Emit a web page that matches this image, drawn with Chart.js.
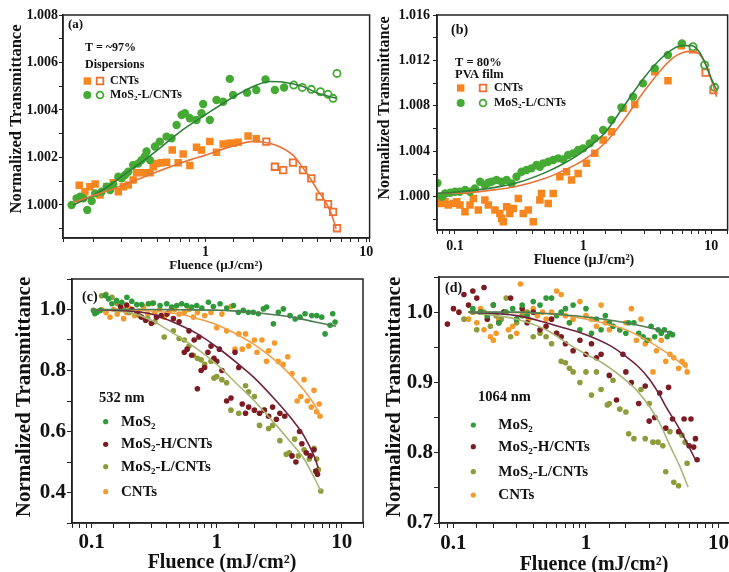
<!DOCTYPE html>
<html>
<head>
<meta charset="utf-8">
<script src="https://cdn.jsdelivr.net/npm/chart.js@4.4.1/dist/chart.umd.min.js"></script>
<style>
  html, body { margin: 0; padding: 0; background: #fff; }
  #wrap { position: relative; width: 729px; height: 572px; overflow: hidden; background: #fff; }
  #wrap canvas { position: absolute; }
</style>
</head>
<body>
<div id="wrap"></div>
<script>
// ---------- panel (a): dispersions, T ~97% ----------
const A_CNT_FILLED = [[0.164,1.00083],[0.178,1.00056],[0.191,1.00077],[0.206,1.00088],[0.221,1.00042],[0.243,1.00077],[0.267,1.00094],[0.287,1.00056],[0.308,1.00077],[0.331,1.00084],[0.355,1.00105],[0.373,1.00136],[0.410,1.00136],[0.451,1.00136],[0.473,1.00161],[0.496,1.00175],[0.533,1.00178],[0.573,1.0018],[0.621,1.00232],[0.676,1.00178],[0.726,1.00215],[0.800,1.00166],[0.879,1.00243],[0.944,1.00232],[1.064,1.00267],[1.170,1.00222],[1.288,1.00257],[1.416,1.0026],[1.485,1.0026],[1.595,1.00264],[1.84,1.00291],[2.07,1.00279]];
const A_CNT_OPEN = [[2.39,1.00267],[2.70,1.00161],[3.04,1.00147],[3.50,1.00178],[4.04,1.00147],[4.55,1.00112],[5.13,1.00035],[5.78,1.00004],[6.21,0.99971],[6.57,0.99902]];
const A_MOS_FILLED = [[0.147,1.0000],[0.158,1.00028],[0.166,1.00035],[0.174,1.00028],[0.184,0.99979],[0.196,1.00017],[0.206,1.00049],[0.226,1.00056],[0.243,1.00077],[0.255,1.00063],[0.267,1.00084],[0.287,1.00119],[0.301,1.00112],[0.316,1.00126],[0.331,1.0014],[0.355,1.00168],[0.382,1.00175],[0.400,1.00189],[0.420,1.00204],[0.430,1.00225],[0.451,1.00189],[0.485,1.00246],[0.520,1.00267],[0.573,1.00288],[0.615,1.00281],[0.661,1.00337],[0.710,1.00379],[0.744,1.00386],[0.799,1.00365],[0.879,1.00358],[0.944,1.00386],[0.967,1.00425],[1.064,1.00358],[1.170,1.00442],[1.288,1.00435],[1.416,1.00531],[1.485,1.00463],[1.814,1.00473],[2.07,1.00484],[2.36,1.00529],[2.70,1.00484],[3.08,1.00495]];
const A_MOS_OPEN = [[3.54,1.00505],[4.00,1.00495],[4.55,1.00487],[5.18,1.00477],[5.78,1.00466],[6.21,1.00449],[6.57,1.00554]];
const A_CNT_FIT = [[0.15,1.0001],[0.2,1.0004],[0.3,1.0008],[0.5,1.0014],[0.8,1.0019],[1.0,1.0021],[1.5,1.0025],[2.0,1.00268],[2.5,1.0026],[3.0,1.0024],[3.5,1.0021],[4.0,1.0016],[4.5,1.0011],[5.0,1.0006],[5.5,1.0002],[6.0,0.9997],[6.5,0.9990]];
const A_MOS_FIT = [[0.15,1.0000],[0.2,1.0004],[0.25,1.0008],[0.3,1.0012],[0.4,1.0018],[0.5,1.0023],[0.7,1.0031],[1.0,1.0038],[1.5,1.00456],[2.0,1.0050],[2.5,1.0052],[3.0,1.00518],[4.0,1.0050],[5.0,1.0047],[6.5,1.0045]];

// ---------- panel (b): PVA film, T = 80% ----------
const B_CNT_FILLED = [[0.072,0.99985],[0.0787,0.99941],[0.0836,0.99956],[0.0887,0.99927],[0.0971,0.99941],[0.1031,0.99956],[0.1094,0.99927],[0.1197,0.99868],[0.131,0.99927],[0.139,0.99985],[0.152,0.99883],[0.171,0.99971],[0.182,0.99927],[0.205,0.99883],[0.224,0.99853],[0.231,0.99809],[0.238,0.9978],[0.253,0.99912],[0.268,0.99853],[0.285,0.99897],[0.312,0.99985],[0.341,0.99853],[0.373,0.99883],[0.408,0.9978],[0.459,0.99971],[0.473,1.00029],[0.534,0.99941],[0.584,1.00029],[0.658,1.00176],[0.742,1.0022],[0.811,1.00147],[0.914,1.00205],[1.062,1.00294],[1.233,1.00382],[1.432,1.00499],[1.663,1.00572],[2.05,1.00778],[2.53,1.00813],[3.62,1.01101],[4.59,1.01022],[5.84,1.0133]];
const B_CNT_OPEN = [[7.20,1.01298],[9.03,1.01092],[10.4,1.00939]];
const B_MOS_FILLED = [[0.073,1.0012],[0.079,1.0000],[0.0836,1.00029],[0.0918,1.00035],[0.100,1.00044],[0.109,1.00044],[0.120,1.00059],[0.131,1.00044],[0.143,1.00073],[0.157,1.00132],[0.171,1.00103],[0.182,1.00123],[0.193,1.00132],[0.211,1.00147],[0.231,1.00132],[0.253,1.00147],[0.277,1.00117],[0.302,1.00176],[0.331,1.0022],[0.362,1.00235],[0.396,1.0025],[0.433,1.00279],[0.459,1.00264],[0.488,1.00294],[0.534,1.00308],[0.584,1.00323],[0.639,1.00338],[0.699,1.00329],[0.764,1.00367],[0.836,1.00382],[0.914,1.00411],[1.0,1.00426],[1.127,1.0047],[1.233,1.00514],[1.432,1.00587],[1.663,1.00675],[1.99,1.00787],[2.45,1.00881],[2.93,1.00998],[3.62,1.0113],[4.59,1.01248],[5.9,1.0135]];
const B_MOS_OPEN = [[7.20,1.01321],[8.87,1.0116],[10.6,1.00963]];
const B_CNT_FIT = [[0.072,1.0003],[0.1,1.0003],[0.2,1.0006],[0.3,1.0009],[0.5,1.0016],[0.7,1.0023],[1.0,1.0032],[1.5,1.0048],[2.0,1.0065],[3.0,1.0093],[4.0,1.0111],[5.0,1.0122],[6.0,1.0127],[7.0,1.0128],[8.0,1.0126],[9.0,1.0117],[10.0,1.0103],[11.0,1.0088]];
const B_MOS_FIT = [[0.072,1.0003],[0.1,1.0004],[0.2,1.0008],[0.3,1.0012],[0.5,1.0021],[0.7,1.0029],[1.0,1.0040],[1.5,1.0057],[2.0,1.0077],[3.0,1.0105],[4.0,1.0121],[5.0,1.0130],[6.0,1.0133],[7.0,1.0133],[8.0,1.0128],[9.0,1.0117],[10.0,1.0104],[11.0,1.0094]];

// ---------- panel (c): 532 nm ----------
const C_MOS = [[0.103,0.997],[0.106,0.986],[0.110,0.991],[0.117,0.997],[0.128,1.046],[0.136,1.035],[0.145,1.019],[0.158,1.029],[0.174,1.024],[0.191,1.040],[0.209,1.027],[0.229,1.016],[0.251,1.016],[0.284,1.019],[0.311,1.021],[0.352,1.013],[0.398,1.019],[0.436,1.008],[0.479,1.013],[0.525,1.019],[0.575,1.013],[0.631,1.008],[0.692,1.013],[0.759,1.005],[0.858,1.024],[0.940,1.010],[1.063,1.019],[1.202,1.005],[1.36,1.013],[1.49,0.991],[1.63,0.997],[1.79,0.991],[1.96,0.991],[2.15,0.986],[2.36,1.002],[2.51,1.008],[2.84,0.953],[3.11,0.991],[3.41,1.002],[3.86,0.980],[4.24,0.969],[4.64,0.975],[5.09,0.986],[5.75,0.980],[6.31,0.980],[6.92,0.975],[7.36,0.920],[8.07,0.948],[8.47,0.986],[8.85,0.959]];
const C_MOS_H = [[0.17,1.01],[0.19,1.015],[0.21,1.0],[0.23,0.99],[0.25,0.975],[0.27,0.965],[0.3,0.955],[0.33,0.975],[0.36,0.98],[0.4,0.985],[0.45,0.97],[0.5,0.96],[0.55,0.86],[0.58,0.87],[0.6,0.93],[0.63,0.85],[0.66,0.9],[0.7,0.74],[0.72,0.91],[0.75,0.8],[0.8,0.81],[0.85,0.86],[0.9,0.88],[0.95,0.84],[1.0,0.83],[1.05,0.87],[1.1,0.8],[1.2,0.7],[1.3,0.71],[1.4,0.86],[1.5,0.81],[1.6,0.69],[1.7,0.66],[1.8,0.68],[2.0,0.67],[2.2,0.66],[2.4,0.67],[2.6,0.65],[2.8,0.68],[3.0,0.64],[3.2,0.66],[3.5,0.65],[4.0,0.52],[4.3,0.5],[4.6,0.6],[4.8,0.56],[5.2,0.53],[5.6,0.52],[6.0,0.54],[6.2,0.47],[6.4,0.46]];
const C_MOS_L = [[0.12,1.045],[0.13,1.05],[0.145,1.04],[0.16,1.02],[0.18,1.0],[0.2,0.99],[0.24,0.98],[0.28,0.97],[0.32,0.96],[0.38,0.91],[0.45,0.93],[0.5,0.905],[0.55,0.90],[0.6,0.88],[0.65,0.85],[0.7,0.84],[0.75,0.835],[0.8,0.82],[0.9,0.83],[0.95,0.775],[1.0,0.78],[1.1,0.77],[1.2,0.76],[1.3,0.67],[1.5,0.66],[1.7,0.75],[1.8,0.73],[2.0,0.715],[2.2,0.62],[2.4,0.67],[2.6,0.61],[2.8,0.62],[3.2,0.57],[3.6,0.525],[3.8,0.53],[4.2,0.575],[4.5,0.52],[5.0,0.54],[5.5,0.51],[6.0,0.545],[6.3,0.51],[6.5,0.475],[6.8,0.405]];
const C_CNT = [[0.12,1.0],[0.13,0.99],[0.14,0.975],[0.15,1.0],[0.16,0.985],[0.17,1.0],[0.18,0.97],[0.19,0.99],[0.2,1.005],[0.22,0.98],[0.24,0.995],[0.26,1.01],[0.28,0.985],[0.3,1.02],[0.32,0.99],[0.35,1.0],[0.38,0.975],[0.42,0.995],[0.46,1.0],[0.5,0.985],[0.55,0.99],[0.6,1.0],[0.65,0.975],[0.7,0.99],[0.8,0.98],[0.9,0.99],[1.0,0.94],[1.1,0.985],[1.2,0.93],[1.3,1.01],[1.4,0.87],[1.5,0.92],[1.6,0.87],[1.7,0.92],[1.8,0.88],[2.0,0.90],[2.1,0.86],[2.3,0.90],[2.5,0.83],[2.6,0.865],[2.9,0.89],[3.1,0.83],[3.4,0.82],[3.7,0.845],[4.0,0.79],[4.4,0.70],[4.7,0.715],[5.0,0.77],[5.3,0.70],[5.7,0.68],[6.0,0.735],[6.3,0.665],[6.6,0.69],[6.7,0.65]];
const C_MOS_FIT = [[0.1,1.0],[0.3,1.0],[0.5,0.999],[1.0,0.998],[2.0,0.99],[3.0,0.982],[4.0,0.975],[6.0,0.96],[9.0,0.945]];
const C_MOS_H_FIT = [[0.1,1.0],[0.2,0.995],[0.3,0.985],[0.5,0.95],[0.7,0.92],[1.0,0.877],[1.5,0.82],[2.0,0.776],[3.0,0.70],[4.0,0.64],[5.0,0.585],[6.0,0.52],[6.5,0.48]];
const C_MOS_L_FIT = [[0.1,1.0],[0.2,0.99],[0.3,0.965],[0.4,0.935],[0.5,0.91],[0.7,0.87],[1.0,0.82],[1.5,0.75],[2.0,0.70],[3.0,0.62],[4.0,0.56],[5.0,0.51],[6.0,0.45],[6.8,0.405]];
const C_CNT_FIT = [[0.1,1.0],[0.3,0.995],[0.5,0.985],[0.7,0.97],[1.0,0.95],[1.5,0.915],[2.0,0.885],[3.0,0.83],[4.0,0.78],[5.0,0.735],[6.0,0.69],[6.7,0.655]];

// ---------- panel (d): 1064 nm ----------
const D_MOS = [[0.14,1.005],[0.16,1.0],[0.18,0.995],[0.2,1.01],[0.22,0.985],[0.25,1.0],[0.28,1.005],[0.3,0.99],[0.33,1.01],[0.36,0.995],[0.4,1.015],[0.45,1.01],[0.5,1.02],[0.55,1.02],[0.6,0.995],[0.65,1.0],[0.7,1.005],[0.75,0.985],[0.8,1.01],[0.9,0.975],[1.0,1.005],[1.1,0.97],[1.2,0.99],[1.3,0.975],[1.4,0.995],[1.5,0.985],[1.6,0.98],[1.8,0.975],[2.0,0.97],[2.1,0.985],[2.3,0.985],[2.5,0.97],[2.7,0.965],[2.9,0.96],[3.1,0.98],[3.3,0.965],[3.5,0.975],[3.7,0.97],[3.9,0.975],[4.1,0.965],[4.3,0.97],[4.5,0.968]];
const D_MOS_H = [[0.09,0.983],[0.1,1.005],[0.11,1.0],[0.12,1.025],[0.13,1.01],[0.14,1.03],[0.15,1.02],[0.16,1.0],[0.17,1.035],[0.18,0.99],[0.2,1.01],[0.22,0.985],[0.24,1.0],[0.27,1.02],[0.3,0.99],[0.33,1.005],[0.36,0.985],[0.4,1.0],[0.45,0.975],[0.5,0.98],[0.55,0.99],[0.6,0.97],[0.65,0.965],[0.7,0.955],[0.8,0.945],[0.9,0.96],[1.0,0.94],[1.1,0.955],[1.2,0.935],[1.3,0.94],[1.5,0.91],[1.7,0.875],[1.9,0.94],[2.0,0.915],[2.2,0.9],[2.5,0.87],[2.8,0.895],[3.0,0.845],[3.3,0.85],[3.6,0.885],[4.0,0.835],[4.2,0.893],[4.5,0.848],[5.0,0.83],[5.5,0.848],[6.0,0.81],[6.2,0.848],[6.5,0.808],[6.7,0.82],[6.9,0.79]];
const D_MOS_L = [[0.12,0.99],[0.14,1.0],[0.15,0.975],[0.17,1.0],[0.19,0.98],[0.21,0.995],[0.23,0.99],[0.25,1.02],[0.27,0.965],[0.3,0.985],[0.33,0.995],[0.36,1.0],[0.4,0.965],[0.45,0.97],[0.5,0.965],[0.55,0.955],[0.6,0.97],[0.65,0.93],[0.7,0.928],[0.75,0.92],[0.8,0.915],[0.9,0.9],[1.0,0.915],[1.1,0.882],[1.2,0.915],[1.3,0.89],[1.45,0.868],[1.5,0.87],[1.6,0.903],[1.8,0.862],[2.0,0.858],[2.1,0.827],[2.3,0.82],[2.6,0.89],[2.8,0.82],[3.0,0.87],[3.2,0.815],[3.5,0.815],[3.8,0.81],[4.0,0.773],[4.3,0.83],[4.6,0.758],[5.0,0.753],[5.3,0.825],[5.6,0.815],[5.8,0.785]];
const D_CNT = [[0.13,0.99],[0.14,1.0],[0.15,0.985],[0.16,1.005],[0.17,0.975],[0.18,0.995],[0.19,0.965],[0.2,0.96],[0.21,0.97],[0.22,0.99],[0.24,1.0],[0.26,0.975],[0.28,0.98],[0.3,0.97],[0.32,1.04],[0.34,1.0],[0.37,0.99],[0.4,1.005],[0.43,0.995],[0.47,1.0],[0.5,0.99],[0.55,1.0],[0.6,1.03],[0.65,1.025],[0.7,0.995],[0.75,0.985],[0.8,0.99],[0.9,1.015],[1.0,0.995],[1.1,0.99],[1.2,0.98],[1.3,1.01],[1.4,0.985],[1.5,0.975],[1.6,0.98],[1.8,0.975],[2.0,0.985],[2.2,1.005],[2.4,0.96],[2.6,0.99],[2.8,0.955],[3.0,0.96],[3.2,0.915],[3.4,0.945],[3.7,0.96],[4.0,0.93],[4.3,0.94],[4.6,0.935],[5.0,0.92],[5.3,0.93],[5.6,0.925],[5.8,0.915]];
const D_MOS_FIT = [[0.13,1.0],[0.3,1.0],[0.5,0.998],[1.0,0.993],[2.0,0.985],[3.0,0.978],[4.5,0.97]];
const D_MOS_H_FIT = [[0.13,1.0],[0.3,0.995],[0.5,0.985],[0.7,0.977],[1.0,0.968],[1.5,0.953],[2.0,0.937],[2.5,0.922],[3.0,0.905],[3.6,0.882],[4.0,0.866],[5.0,0.836],[6.0,0.808],[6.7,0.79]];
const D_MOS_L_FIT = [[0.13,1.0],[0.3,0.99],[0.5,0.975],[0.76,0.953],[1.0,0.94],[1.35,0.927],[2.0,0.903],[2.41,0.889],[3.0,0.866],[3.62,0.841],[4.3,0.81],[5.12,0.78],[5.9,0.751]];
const D_CNT_FIT = [[0.13,1.0],[0.5,0.998],[1.0,0.99],[2.0,0.975],[3.0,0.958],[4.0,0.943],[5.0,0.93],[5.8,0.92]];

const SERIF = "'Liberation Serif', 'DejaVu Serif', serif";
const ORANGE = '#f7861e', GREEN = '#44aa34';
const C_GREEN = '#2e9a3a', C_RED = '#7d1b22', C_OLIVE = '#8e9b38', C_ORANGE = '#f59a2a';

const pts = arr => arr.map(([x, y]) => ({x, y}));

function scatterSet(arr, style, color, r, open, order) {
  return {
    data: pts(arr), pointStyle: style, pointRadius: r, pointHoverRadius: r,
    pointBackgroundColor: open ? '#fff' : color, pointBorderColor: color,
    pointBorderWidth: open ? 1.8 : 0, showLine: false, order: order
  };
}
function fitSet(arr, color) {
  return {data: pts(arr), showLine: true, borderColor: color, borderWidth: 1.6,
          pointRadius: 0, cubicInterpolationMode: 'monotone', order: 0};
}

const logLabel = v => {
  const e = Math.log10(v);
  return Math.abs(e - Math.round(e)) < 1e-6 ? String(v >= 1 ? Math.round(v) : v) : '';
};

// frame around plot area
const framePlugin = {
  id: 'frame',
  afterDraw(chart) {
    const {ctx, chartArea: a} = chart;
    ctx.save();
    ctx.strokeStyle = '#222';
    ctx.lineWidth = 1.5;
    ctx.strokeRect(a.left, a.top, a.right - a.left, a.bottom - a.top);
    ctx.restore();
  }
};

// in-plot texts, legends and axis titles (page coordinates)
const notesPlugin = {
  id: 'notes',
  afterDraw(chart, args, opts) {
    const ctx = chart.ctx;
    opts.items.forEach(it => {
      const x = it.x - opts.ox, y = it.y - opts.oy;
      ctx.save();
      if (it.text) {
        ctx.font = 'bold ' + it.size + 'px ' + SERIF;
        ctx.fillStyle = '#111';
        ctx.textBaseline = 'middle';
        ctx.textAlign = it.align || 'left';
        ctx.translate(x, y);
        if (it.rot) ctx.rotate(it.rot * Math.PI / 180);
        ctx.fillText(it.text, 0, 0);
      } else {
        ctx.fillStyle = it.open ? '#fff' : it.color;
        ctx.strokeStyle = it.color;
        ctx.lineWidth = 1.8;
        ctx.beginPath();
        if (it.shape === 'rect') ctx.rect(x - it.r, y - it.r, it.r * 2, it.r * 2);
        else ctx.arc(x, y, it.r, 0, Math.PI * 2);
        ctx.fill();
        if (it.open) ctx.stroke();
      }
      ctx.restore();
    });
  }
};

const wrap = document.getElementById('wrap');

function panel(p) {
  const PT = 16, PR = 6;
  const w = p.r - p.l + p.yw + PR, h = p.b - p.t + PT + p.xh;
  const ox = p.l - p.yw, oy = p.t - PT;
  const cv = document.createElement('canvas');
  cv.width = w; cv.height = h;
  cv.style.left = ox + 'px'; cv.style.top = oy + 'px';
  cv.style.width = w + 'px'; cv.style.height = h + 'px';
  wrap.appendChild(cv);
  const tickFont = {family: SERIF, size: p.tickSize, weight: 'bold'};
  const grid = {drawOnChartArea: false, drawTicks: true, tickLength: p.tl, tickColor: '#222', tickWidth: 1};
  new Chart(cv, {
    type: 'scatter',
    data: {datasets: p.datasets},
    options: {
      responsive: false, animation: false, devicePixelRatio: 1,
      layout: {padding: {left: 0, top: PT, right: PR, bottom: 0}},
      plugins: {legend: {display: false}, tooltip: {enabled: false},
                notes: {ox, oy, items: p.notes}},
      scales: {
        x: {type: 'logarithmic', min: p.xmin, max: p.xmax, grid,
            border: {color: '#222', width: 1.5},
            ticks: {autoSkip: false, maxRotation: 0, font: tickFont, color: '#111', padding: p.xp, callback: logLabel},
            afterFit: s => { s.height = p.xh; }},
        y: {min: p.ymin, max: p.ymax, grid,
            border: {color: '#222', width: 1.5},
            ticks: {stepSize: p.step, includeBounds: false, autoSkip: false, font: tickFont, color: '#111', padding: p.yp, callback: p.ylabel},
            afterFit: s => { s.width = p.yw; }}
      }
    },
    plugins: [framePlugin, notesPlugin]
  });
}

// (a)
panel({
  l: 63, t: 15, r: 370, b: 238, yw: 63, xh: 36, tl: 4, xp: 2, yp: 1, tickSize: 14,
  xmin: 0.13, xmax: 10.48, ymin: 0.99861, ymax: 1.008, step: 0.001,
  ylabel: v => { const k = Math.round((v - 1) * 1000); return (k >= 0 && k % 2 === 0) ? v.toFixed(3) : ''; },
  datasets: [
    fitSet(A_CNT_FIT, '#e8743b'), fitSet(A_MOS_FIT, '#2f7f3a'),
    scatterSet(A_MOS_FILLED, 'circle', GREEN, 4.2, false, 1),
    scatterSet(A_MOS_OPEN, 'circle', GREEN, 3.6, true, 1),
    scatterSet(A_CNT_FILLED, 'rect', ORANGE, 5.3, false, 2),
    scatterSet(A_CNT_OPEN, 'rect', '#f07030', 4.6, true, 2)
  ],
  notes: [
    {text: 'Normalized Transmittance', x: 16.7, y: 119, size: 16.5, rot: -90, align: 'center'},
    {text: 'Fluence (\u00b5J/cm\u00b2)', x: 216, y: 265.7, size: 13, align: 'center'},
    {text: '(a)', x: 68, y: 25, size: 13},
    {text: 'T = ~97%', x: 85, y: 47.7, size: 12},
    {text: 'Dispersions', x: 85, y: 65, size: 12},
    {shape: 'rect', x: 87.3, y: 81, r: 3.7, color: ORANGE},
    {shape: 'rect', x: 100, y: 81, r: 3.3, color: '#f07030', open: true},
    {text: 'CNTs', x: 110, y: 81, size: 12},
    {shape: 'circle', x: 87.3, y: 95, r: 4, color: GREEN},
    {shape: 'circle', x: 100, y: 95, r: 3.4, color: GREEN, open: true},
    {text: 'MoS\u2082-L/CNTs', x: 110, y: 95, size: 12}
  ]
});

// (b)
panel({
  l: 437, t: 15, r: 728, b: 230, yw: 62, xh: 39, tl: 4, xp: 4, yp: 3, tickSize: 14,
  xmin: 0.0724, xmax: 13.4, ymin: 0.99707, ymax: 1.016, step: 0.002,
  ylabel: v => { const k = Math.round((v - 1) * 1000); return (k >= 0 && k % 4 === 0) ? v.toFixed(3) : ''; },
  datasets: [
    fitSet(B_MOS_FIT, '#2f7f3a'), fitSet(B_CNT_FIT, '#e8743b'),
    scatterSet(B_MOS_FILLED, 'circle', GREEN, 4.2, false, 1),
    scatterSet(B_MOS_OPEN, 'circle', GREEN, 3.6, true, 1),
    scatterSet(B_CNT_FILLED, 'rect', ORANGE, 5.3, false, 2),
    scatterSet(B_CNT_OPEN, 'rect', '#f07030', 4.6, true, 2)
  ],
  notes: [
    {text: 'Normalized Transmittance', x: 385, y: 108, size: 16, rot: -90, align: 'center'},
    {text: 'Fluence (\u00b5J/cm\u00b2)', x: 584, y: 260, size: 14, align: 'center'},
    {text: '(b)', x: 451, y: 30, size: 14},
    {text: 'T = 80%', x: 455, y: 63, size: 12.5},
    {text: 'PVA film', x: 455, y: 75, size: 12.5},
    {shape: 'rect', x: 460.7, y: 88, r: 3.7, color: ORANGE},
    {shape: 'rect', x: 483, y: 88, r: 3.3, color: '#f07030', open: true},
    {text: 'CNTs', x: 494, y: 88, size: 12},
    {shape: 'circle', x: 460.7, y: 103, r: 4, color: GREEN},
    {shape: 'circle', x: 483, y: 103, r: 3.4, color: GREEN, open: true},
    {text: 'MoS\u2082-L/CNTs', x: 494, y: 103, size: 12}
  ]
});

// (c)
panel({
  l: 72, t: 279, r: 363, b: 523, yw: 72, xh: 52, tl: 5, xp: 2, yp: 1, tickSize: 21,
  xmin: 0.0695, xmax: 14.8, ymin: 0.3, ymax: 1.1, step: 0.1,
  ylabel: v => { const k = Math.round(v * 10); return (k % 2 === 0 && k >= 4 && k <= 10) ? v.toFixed(1) : ''; },
  datasets: [
    fitSet(C_MOS_FIT, '#4d7d50'), fitSet(C_MOS_H_FIT, '#6e2440'),
    fitSet(C_MOS_L_FIT, '#a9b878'), fitSet(C_CNT_FIT, '#f2a04a'),
    scatterSet(C_MOS, 'circle', C_GREEN, 2.8, false, 1),
    scatterSet(C_MOS_H, 'circle', C_RED, 2.8, false, 2),
    scatterSet(C_MOS_L, 'circle', C_OLIVE, 2.8, false, 3),
    scatterSet(C_CNT, 'circle', C_ORANGE, 2.8, false, 4)
  ],
  notes: [
    {text: 'Normalized Transmittance', x: 25, y: 397, size: 21, rot: -90, align: 'center'},
    {text: 'Fluence (mJ/cm\u00b2)', x: 222, y: 562.7, size: 20, align: 'center'},
    {text: '(c)', x: 82, y: 297, size: 14},
    {text: '532 nm', x: 99, y: 398, size: 14.5},
    {shape: 'circle', x: 105.7, y: 421.7, r: 2.6, color: C_GREEN},
    {text: 'MoS\u2082', x: 121, y: 421.7, size: 15},
    {shape: 'circle', x: 105.7, y: 444.3, r: 2.6, color: C_RED},
    {text: 'MoS\u2082-H/CNTs', x: 121, y: 444.3, size: 15},
    {shape: 'circle', x: 105.7, y: 466.7, r: 2.6, color: C_OLIVE},
    {text: 'MoS\u2082-L/CNTs', x: 121, y: 466.7, size: 15},
    {shape: 'circle', x: 105.7, y: 491.7, r: 2.6, color: C_ORANGE},
    {text: 'CNTs', x: 121, y: 491.7, size: 15}
  ]
});

// (d)
panel({
  l: 439, t: 277, r: 745, b: 523, yw: 60, xh: 54, tl: 5, xp: 3, yp: 1, tickSize: 21,
  xmin: 0.0778, xmax: 15.85, ymin: 0.7, ymax: 1.05, step: 0.05,
  ylabel: v => { const k = Math.round(v * 100); return (k % 10 === 0) ? v.toFixed(1) : ''; },
  datasets: [
    fitSet(D_MOS_FIT, '#4d7d50'), fitSet(D_MOS_H_FIT, '#6e2440'),
    fitSet(D_MOS_L_FIT, '#a9b878'), fitSet(D_CNT_FIT, '#f2a04a'),
    scatterSet(D_MOS, 'circle', C_GREEN, 2.8, false, 1),
    scatterSet(D_MOS_H, 'circle', C_RED, 2.8, false, 2),
    scatterSet(D_MOS_L, 'circle', C_OLIVE, 2.8, false, 3),
    scatterSet(D_CNT, 'circle', C_ORANGE, 2.8, false, 4)
  ],
  notes: [
    {text: 'Normalized Transmittance', x: 395, y: 397, size: 21, rot: -90, align: 'center'},
    {text: 'Fluence (mJ/cm\u00b2)', x: 594, y: 565, size: 20, align: 'center'},
    {text: '(d)', x: 445, y: 288, size: 14},
    {text: '1064 nm', x: 478, y: 397, size: 14.5},
    {shape: 'circle', x: 473.3, y: 425, r: 2.6, color: C_GREEN},
    {text: 'MoS\u2082', x: 498.3, y: 425, size: 15},
    {shape: 'circle', x: 473.3, y: 446.7, r: 2.6, color: C_RED},
    {text: 'MoS\u2082-H/CNTs', x: 498.3, y: 446.7, size: 15},
    {shape: 'circle', x: 473.3, y: 471.7, r: 2.6, color: C_OLIVE},
    {text: 'MoS\u2082-L/CNTs', x: 498.3, y: 471.7, size: 15},
    {shape: 'circle', x: 473.3, y: 495, r: 2.6, color: C_ORANGE},
    {text: 'CNTs', x: 498.3, y: 495, size: 15}
  ]
});
</script>
</body>
</html>
